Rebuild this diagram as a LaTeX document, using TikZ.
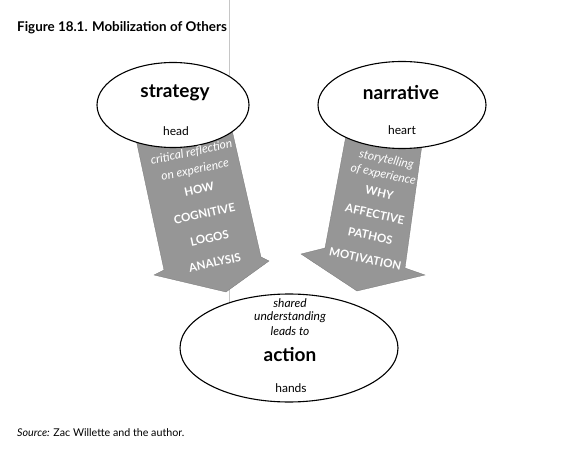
\documentclass[tikz,border=0pt]{standalone}
\usepackage{fontspec}
\setmainfont{Lato}
\usetikzlibrary{shapes.geometric}
\definecolor{arrowgray}{RGB}{150,150,150}
\newcommand{\capsline}[1]{{\fontsize{11.5}{16}\selectfont\bfseries #1}}
\newcommand{\itline}[1]{{\fontsize{12}{16}\selectfont\itshape #1}}
\begin{document}
\begin{tikzpicture}[x=1pt,y=-1pt,
  oval/.style={ellipse,draw,line width=1.1pt,fill=white,inner sep=0pt},
  bigarrow/.style={fill=arrowgray,draw=arrowgray!80!black,line width=0.3pt},
  arrowtext/.style={text=white,font=\fontsize{12}{16}\selectfont,inner sep=0pt,align=center},
  bigword/.style={font=\fontsize{19}{21}\selectfont\bfseries,inner sep=0pt},
  smallword/.style={font=\fontsize{12}{13}\selectfont,inner sep=0pt},
  itword/.style={font=\fontsize{12}{13}\selectfont\itshape,inner sep=0pt}]
\useasboundingbox (0,0) rectangle (562,462);
% scan fold line
\draw[gray!45,line width=0.5pt] (229,0) -- (229,368);
% arrows
\draw[bigarrow] (134,130) -- (164,270) -- (154,275) -- (226,292) -- (269,261) -- (261,257) -- (232,130) -- cycle;
\draw[bigarrow] (347,130) -- (325,248) -- (301,254) -- (357,291) -- (425,275) -- (405,268) -- (424,130) -- cycle;
% ellipses
\node[oval,minimum width=152pt,minimum height=85pt] (strategy) at (173,105) {};
\node[oval,minimum width=168pt,minimum height=87pt] (narrative) at (402,105) {};
\node[oval,minimum width=218pt,minimum height=108pt] (action) at (289,348) {};
% ellipse texts
\node[bigword] (strategyt) at (175,93) {strategy};
\node[smallword] (head) at (176,131) {head};
\node[bigword] (narrativet) at (401,93) {narrative};
\node[smallword] (heart) at (402,130) {heart};
\node[itword] (shared) at (290,303) {shared};
\node[itword] (underst) at (290,317) {understanding};
\node[itword] (leads) at (290,331) {leads to};
\node[bigword] (actiont) at (290,355) {action};
\node[smallword] (hands) at (291,388) {hands};
% strategy arrow text
\node[arrowtext,rotate=12] (stratlist) at (203,207)
  {\itline{critical reflection}\\[2pt]
   \itline{on experience}\\[4pt]
   \capsline{HOW}\\[9pt]
   \capsline{COGNITIVE}\\[9pt]
   \capsline{LOGOS}\\[9pt]
   \capsline{ANALYSIS}};
% narrative arrow text
\node[arrowtext,rotate=-12] (narrlist) at (376,209)
  {\itline{storytelling}\\[-1pt]
   \itline{of experience}\\[3pt]
   \capsline{WHY}\\[6pt]
   \capsline{AFFECTIVE}\\[6pt]
   \capsline{PATHOS}\\[8pt]
   \capsline{MOTIVATION}};
% title and source
\node[anchor=west,font=\fontsize{13.4}{15}\selectfont\bfseries,inner sep=0pt] (title) at (17,28) {Figure 18.1. Mobilization of Others};
\node[anchor=west,font=\fontsize{10.7}{12}\selectfont,inner sep=0pt] (source) at (17,433) {\textit{Source:} Zac Willette and the author.};
\end{tikzpicture}
\end{document}
